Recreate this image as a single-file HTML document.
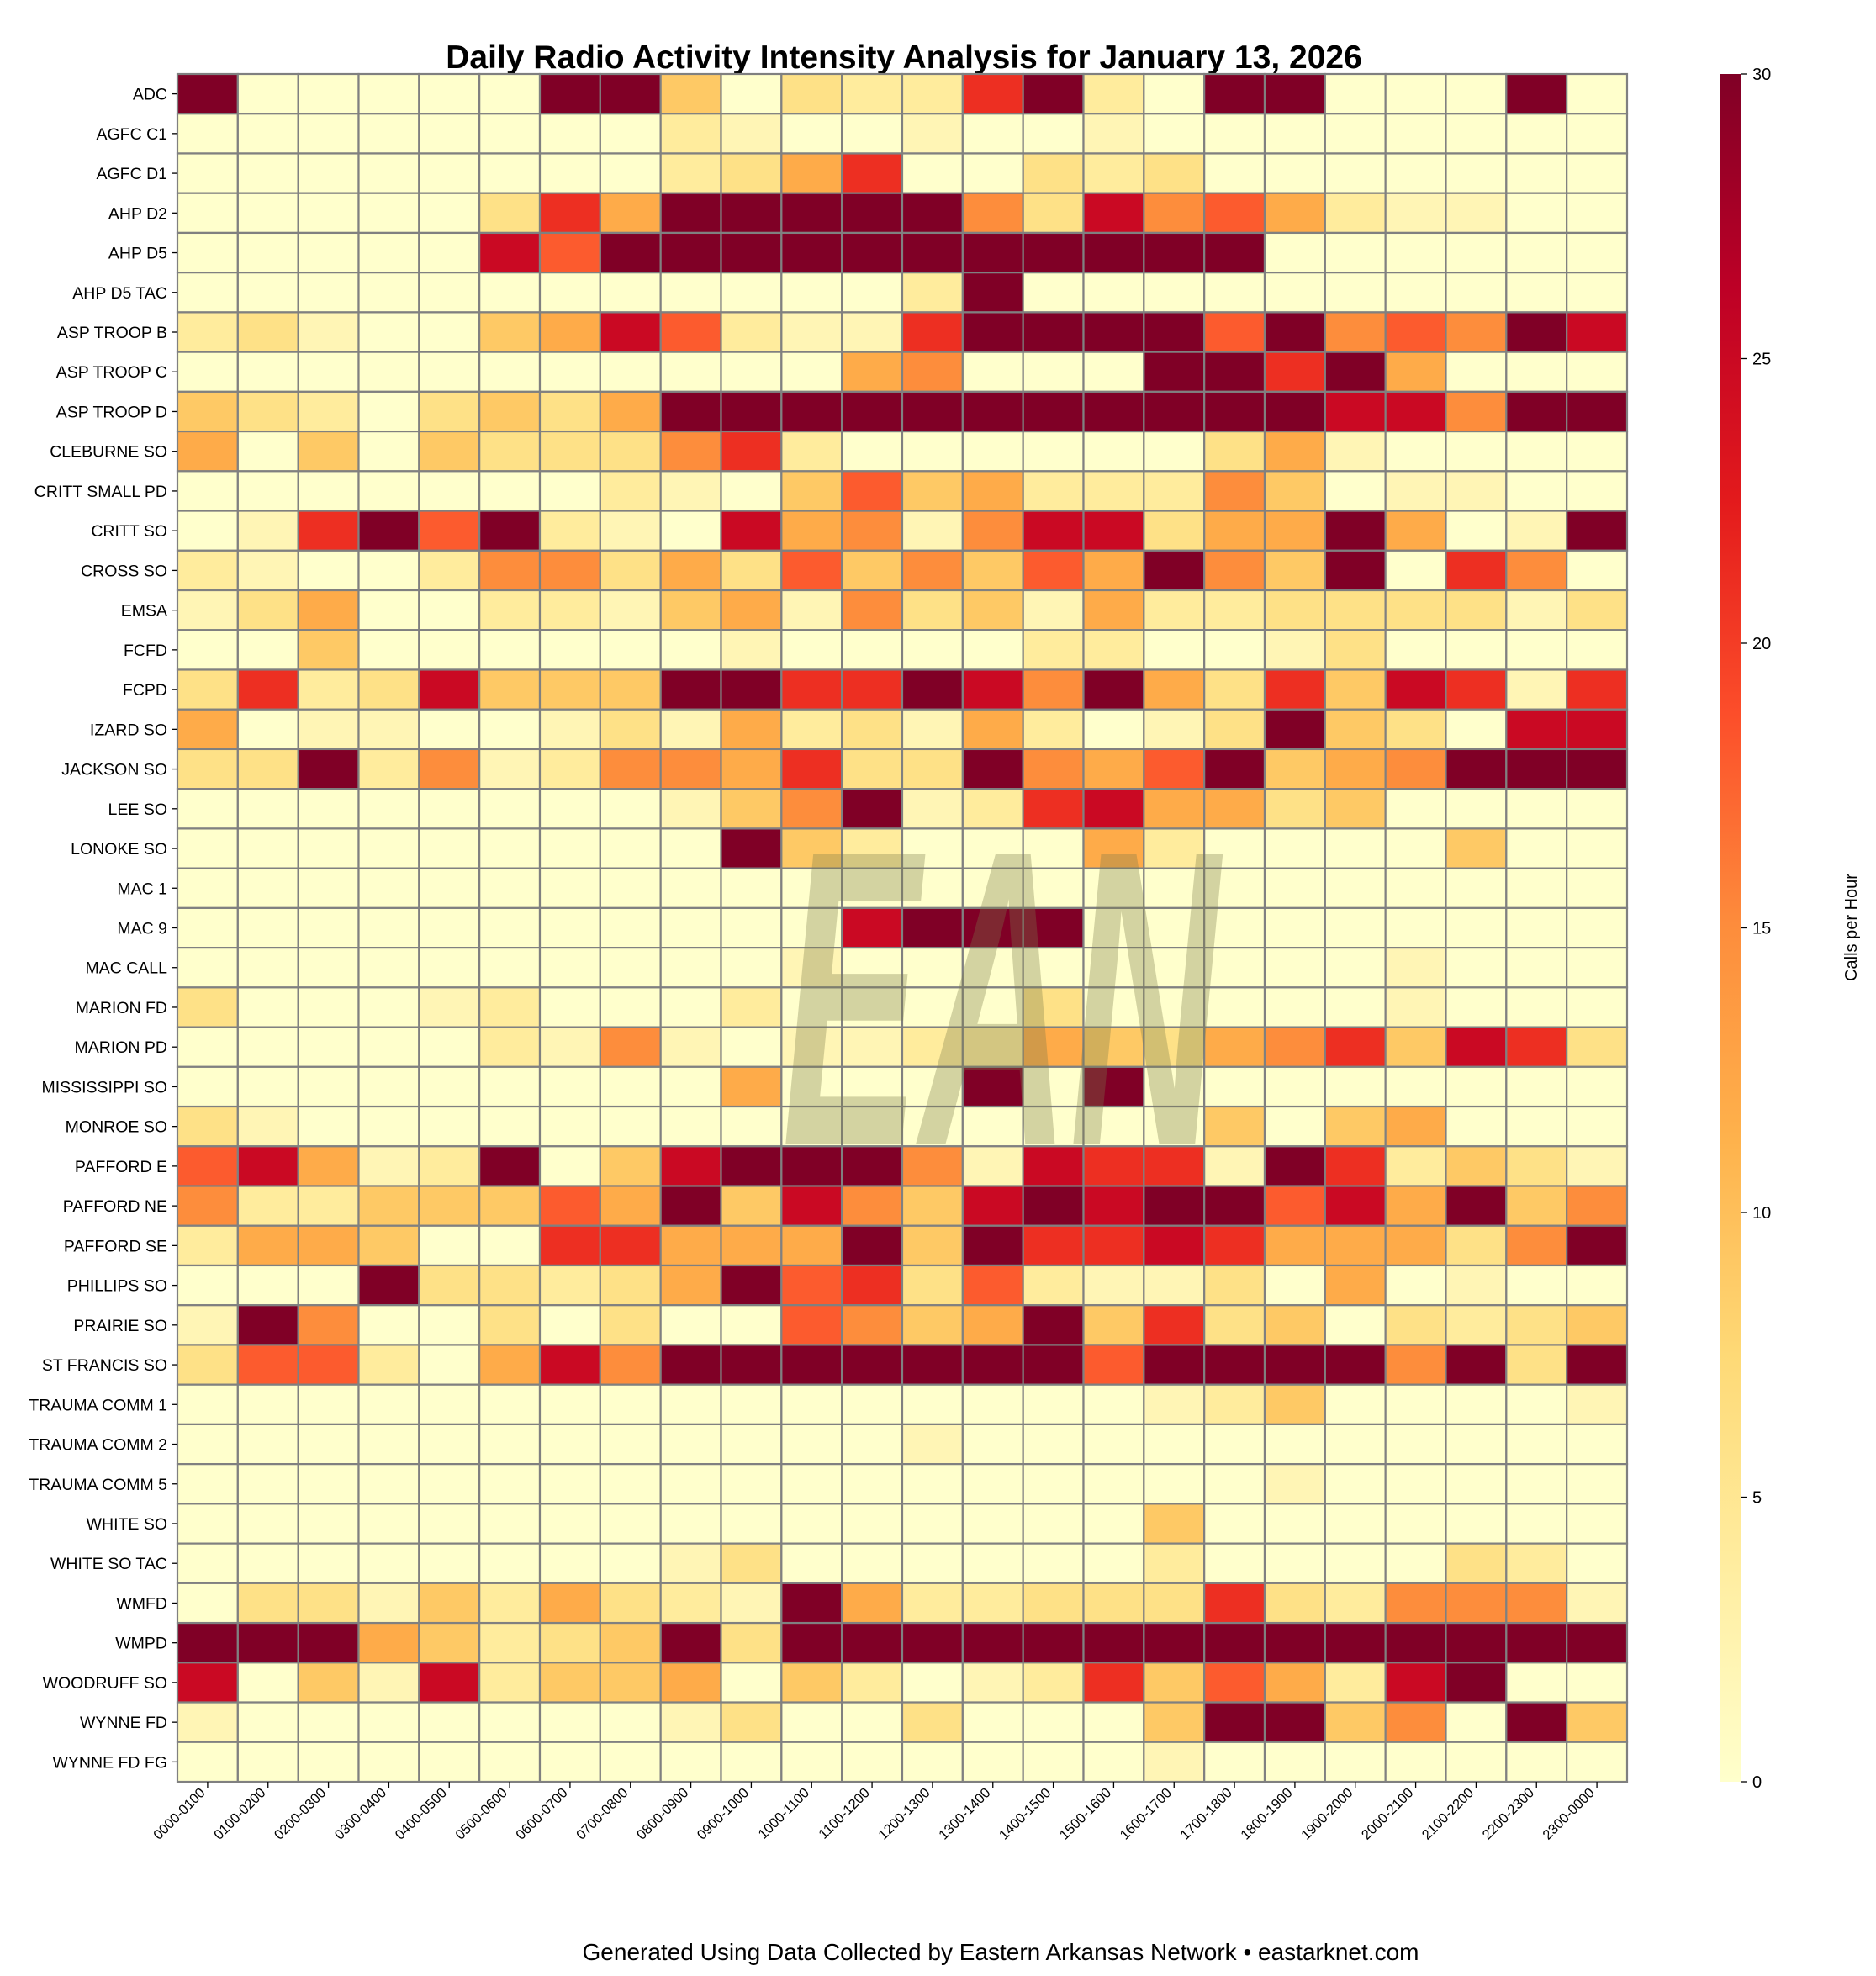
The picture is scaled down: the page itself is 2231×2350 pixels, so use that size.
<!DOCTYPE html>
<html><head><meta charset="utf-8"><style>
html,body{margin:0;padding:0;background:#fff;}
svg{display:block;font-family:"Liberation Sans",sans-serif;}
</style></head><body>
<svg id="s" width="2231" height="2350" xmlns="http://www.w3.org/2000/svg"></svg>
<script>
const rows=[
["ADC","X00000XX403228X20XX000X0"],
["AGFC C1","000000002100100100000000"],
["AGFC D1","000000002358003230000000"],
["AHP D2","00000385XXXXX63967521100"],
["AHP D5","0000097XXXXXXXXXXX000000"],
["AHP D5 TAC","0000000000002X0000000000"],
["ASP TROOP B","2310045972118XXXX7X676X9"],
["ASP TROOP C","0000000000056000XX8X5000"],
["ASP TROOP D","43203435XXXXXXXXXXX996XX"],
["CLEBURNE SO","504043336820000003510000"],
["CRITT SMALL PD","000000021047452226401100"],
["CRITT SO","018X7X2109561699355X501X"],
["CROSS SO","2100266353746475X64X0860"],
["EMSA","135002214516341522333313"],
["FCFD","004000000100002200130000"],
["FCPD","38239444XX88X96X53849818"],
["IZARD SO","501100131523152013X43099"],
["JACKSON SO","33X2612665833X657X456XXX"],
["LEE SO","00000000146X128955340000"],
["LONOKE SO","000000000X42000520000400"],
["MAC 1","000000000000000000000000"],
["MAC 9","000000000009XXX000000000"],
["MAC CALL","000000000010000000001000"],
["MARION FD","300012000200003000001000"],
["MARION PD","000002161011225435684983"],
["MISSISSIPPI SO","0000000005000X0X00000000"],
["MONROE SO","310000000000000004045000"],
["PAFFORD E","79512X049XXX619881X82431"],
["PAFFORD NE","62244475X49649X9XX795X46"],
["PAFFORD SE","25540088555X4X889855536X"],
["PHILLIPS SO","000X33235X78372113050100"],
["PRAIRIE SO","1X600303007645X483403234"],
["ST FRANCIS SO","37720596XXXXXXX7XXXX6X3X"],
["TRAUMA COMM 1","000000000000000012400001"],
["TRAUMA COMM 2","000000000000100000000000"],
["TRAUMA COMM 5","000000000000000000100000"],
["WHITE SO","000000000000000040000000"],
["WHITE SO TAC","000000001300000020000320"],
["WMFD","0331425321X5223338326661"],
["WMPD","XXX54234X3XXXXXXXXXXXXXX"],
["WOODRUFF SO","904192445042012847529X00"],
["WYNNE FD","10000000130030004XX460X4"],
["WYNNE FD FG","000000000000000010000000"]
];
const cols=["0000-0100","0100-0200","0200-0300","0300-0400","0400-0500","0500-0600","0600-0700","0700-0800","0800-0900","0900-1000","1000-1100","1100-1200","1200-1300","1300-1400","1400-1500","1500-1600","1600-1700","1700-1800","1800-1900","1900-2000","2000-2100","2100-2200","2200-2300","2300-0000"];
const stops=["ffffcc","ffeda0","fed976","feb24c","fd8d3c","fc4e2a","e31a1c","bd0026","800026"].map(h=>[0,2,4].map(i=>parseInt(h.substr(i,2),16)));
function cmap(v){let t=Math.max(0,Math.min(1,v/30))*8;let i=Math.min(7,Math.floor(t));let f=t-i;const a=stops[i],b=stops[i+1];return `rgb(${a.map((c,k)=>Math.round(c+(b[k]-c)*f)).join(",")})`;}
const vmap={"0":0,"1":2,"2":4,"3":6,"4":9,"5":12,"6":15,"7":18,"8":21,"9":25,"X":30};
const L=211,R=1935,T=88,B=2119;
const cw=(R-L)/24,rh=(B-T)/43;
let s="";
s+=`<text x="1075" y="81" font-size="39" font-weight="bold" text-anchor="middle">Daily Radio Activity Intensity Analysis for January 13, 2026</text>`;
rows.forEach((r,i)=>{
  let str=r[1];
  while(str.length<24) str+="0";
  for(let j=0;j<24;j++){
    s+=`<rect x="${L+j*cw}" y="${T+i*rh}" width="${cw}" height="${rh}" fill="${cmap(vmap[str[j]]||0)}" stroke="#808080" stroke-width="2.2"/>`;
  }
  const y=T+(i+0.5)*rh;
  s+=`<line x1="${L-7}" x2="${L}" y1="${y}" y2="${y}" stroke="#000" stroke-width="1.3"/>`;
  s+=`<text x="${L-12}" y="${y+7}" font-size="19.5" text-anchor="end">${r[0]}</text>`;
});
cols.forEach((c,j)=>{
  const x=L+(j+0.5)*cw;
  s+=`<line x1="${x}" x2="${x}" y1="${B}" y2="${B+7}" stroke="#000" stroke-width="1.3"/>`;
  s+=`<text transform="translate(${x-2},${B+14}) rotate(-45)" font-size="16.5" text-anchor="end">${c}</text>`;
});
s+=`<text x="930" y="1360" font-size="500" font-weight="bold" font-style="italic" fill="#7a7a4a" fill-opacity="0.33" textLength="520" lengthAdjust="spacingAndGlyphs">EAN</text>`;
s+=`<defs><linearGradient id="g" x1="0" y1="1" x2="0" y2="0">`;
for(let k=0;k<=8;k++) s+=`<stop offset="${k/8}" stop-color="rgb(${stops[k].join(",")})"/>`;
s+=`</linearGradient></defs>`;
s+=`<rect x="2046" y="${T}" width="25" height="${B-T}" fill="url(#g)"/>`;
for(let v=0;v<=30;v+=5){
  const y=B-(B-T)*v/30;
  s+=`<line x1="2071" x2="2078" y1="${y}" y2="${y}" stroke="#000" stroke-width="1.3"/>`;
  s+=`<text x="2084" y="${y+7}" font-size="20">${v}</text>`;
}
s+=`<text transform="translate(2208,1103) rotate(-90)" font-size="20" text-anchor="middle">Calls per Hour</text>`;
s+=`<text x="1190" y="2331" font-size="28" text-anchor="middle">Generated Using Data Collected by Eastern Arkansas Network • eastarknet.com</text>`;
document.getElementById("s").innerHTML=s;
</script>
</body></html>
